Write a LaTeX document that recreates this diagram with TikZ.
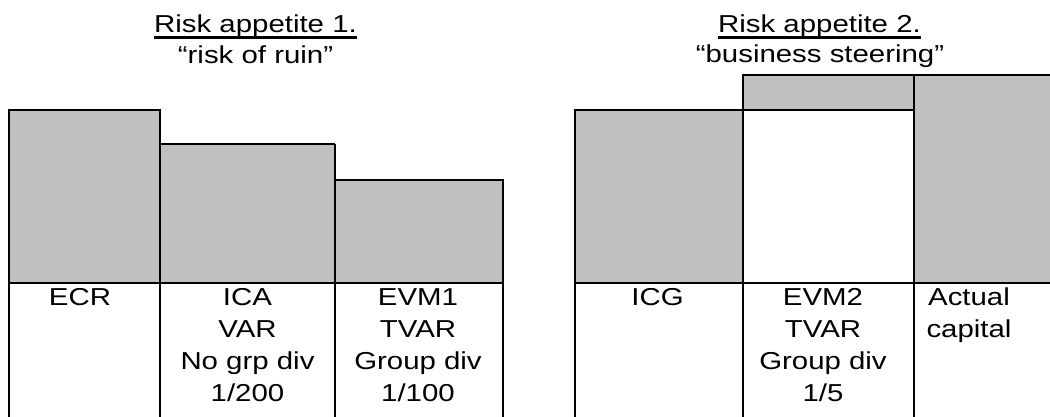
\documentclass[tikz,border=0pt]{standalone}
\usepackage{fontspec}
\setmainfont{Liberation Sans}[FakeStretch=1.2]
\begin{document}
\begin{tikzpicture}[x=1pt,y=-1pt,
  rule/.style={line width=2pt, line cap=butt},
  bar/.style={fill=barfill},
  txt/.style={inner sep=0pt, align=center, anchor=base,
    font=\fontsize{24.5pt}{32.3pt}\selectfont}]
\definecolor{barfill}{HTML}{C0C0C0}
\useasboundingbox (0,0) rectangle (1050,417);

% ---------- left block: risk of ruin ----------
\fill[bar] (9,110) rectangle (160,283);
\fill[bar] (160,144.3) rectangle (335,283);
\fill[bar] (335,179.7) rectangle (502.7,283);

\draw[rule] (9,417) -- (9,110) -- (160,110) -- (160,417);
\draw[rule] (160,144.3) -- (335,144.3);
\draw[rule] (335,417) -- (335,144.3);
\draw[rule] (335,179.7) -- (502.7,179.7) -- (502.7,417);
\draw[rule] (9,283.3) -- (502.7,283.3);

% ---------- right block: business steering ----------
\fill[bar] (574.7,110.3) rectangle (742.7,283.3);
\fill[bar] (742.7,75) rectangle (913.7,110.3);
\fill[bar] (913.7,75) rectangle (1050,283.3);

\draw[rule] (574.7,417) -- (574.7,110.3) -- (913.7,110.3);
\draw[rule] (742.7,417) -- (742.7,75) -- (1050,75);
\draw[rule] (913.7,75) -- (913.7,417);
\draw[rule] (574.7,283.3) -- (1050,283.3);

% ---------- headings ----------
\node[txt] (h1) at (255.5,33) {Risk appetite 1.};
\draw[line width=2.3pt] ([yshift=-4.6pt]h1.base west) -- ([yshift=-4.6pt]h1.base east);
\node[txt] (s1) at (255.5,64) {“risk of ruin”};

\node[txt] (h2) at (819.5,33) {Risk appetite 2.};
\draw[line width=2.3pt] ([yshift=-4.6pt]h2.base west) -- ([yshift=-4.6pt]h2.base east);
\node[txt] (s2) at (820,63) {“business steering”};

% ---------- column labels (base = baseline of the last line) ----------
\node[txt] (ecr) at (80,305) {ECR};
\node[txt] (ica) at (247.5,401.9) {ICA\\VAR\\No grp div\\1/200};
\node[txt] (evm1) at (418,401.9) {EVM1\\TVAR\\Group div\\1/100};
\node[txt] (icg) at (657.5,305) {ICG};
\node[txt] (evm2) at (823,401.9) {EVM2\\TVAR\\Group div\\1/5};
\node[txt] (act) at (969,337.3) {Actual\\capital};
\end{tikzpicture}
\end{document}
